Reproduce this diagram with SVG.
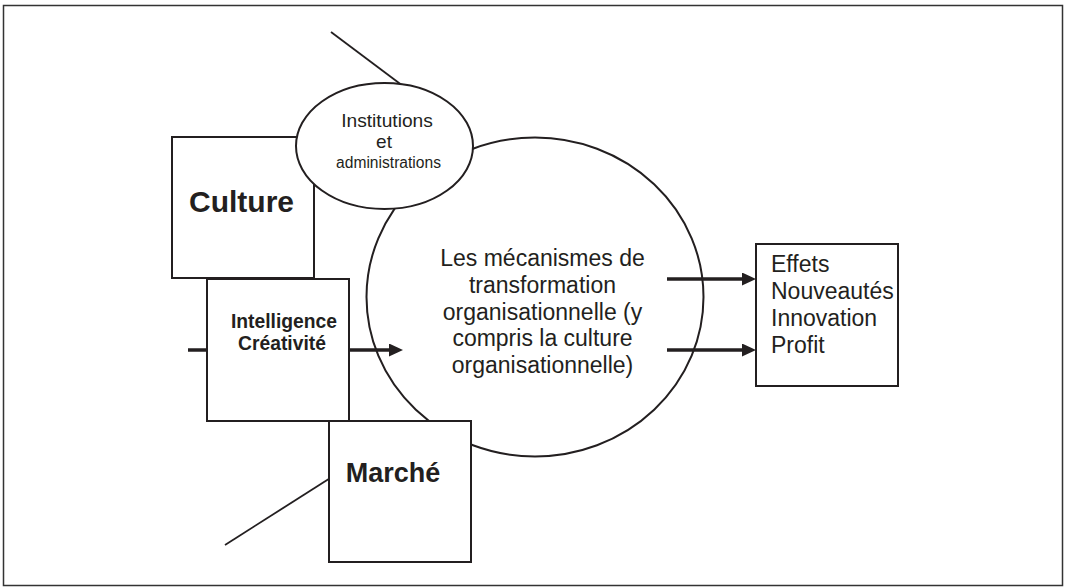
<svg xmlns="http://www.w3.org/2000/svg" width="1065" height="588" viewBox="0 0 1065 588">
<style>
.box{fill:#fff;stroke:#231f20;stroke-width:2}
.ln{fill:none;stroke:#231f20;stroke-width:1.8}
.arr{fill:none;stroke:#231f20;stroke-width:3.5}
text{font-family:"Liberation Sans",Arial,sans-serif;fill:#231f20}
.b{font-weight:bold}
.c{text-anchor:middle}
</style>
<defs>
<marker id="ah" markerUnits="userSpaceOnUse" markerWidth="14" markerHeight="13" viewBox="0 0 14 13" refX="0" refY="6.5" orient="auto">
<path d="M0,0 L14,6.5 L0,13 z" fill="#231f20"/>
</marker>
</defs>
<rect x="3.5" y="5.5" width="1059" height="580" fill="#fff" stroke="#333" stroke-width="1.5"/>
<g id="connectors">
<line class="ln" x1="331" y1="32" x2="410" y2="91.3"/>
<line class="ln" x1="225" y1="545" x2="335" y2="475"/>
<line class="arr" x1="188" y1="350" x2="389" y2="350" marker-end="url(#ah)"/>
<line class="arr" x1="667" y1="279" x2="742" y2="279" marker-end="url(#ah)"/>
<line class="arr" x1="667" y1="350" x2="742" y2="350" marker-end="url(#ah)"/>
</g>
<g id="mecanismes">
<ellipse cx="535" cy="297" rx="168.5" ry="159.5" fill="none" stroke="#231f20" stroke-width="2"/>
<text class="c" x="542.5" font-size="23"><tspan x="542.5" y="266">Les mécanismes de</tspan><tspan x="542.5" y="292.8">transformation</tspan><tspan x="542.5" y="319.6">organisationnelle (y</tspan><tspan x="542.5" y="346.4">compris la culture</tspan><tspan x="542.5" y="373.2">organisationnelle)</tspan></text>
</g>
<g id="culture">
<rect class="box" x="172" y="137" width="142" height="141"/>
<text class="b c" x="241.5" y="212" font-size="30">Culture</text>
</g>
<g id="institutions">
<ellipse class="box" cx="384.5" cy="146" rx="88.5" ry="63"/>
<text class="c" x="387" y="127" font-size="19.2">Institutions</text>
<text class="c" x="384" y="148" font-size="19">et</text>
<text class="c" x="388.5" y="168" font-size="15.6">administrations</text>
</g>
<g id="intelligence">
<rect class="box" x="207" y="279" width="142" height="142"/>
<text class="b c" x="284" y="328" font-size="19.3">Intelligence</text>
<text class="b c" x="282" y="350" font-size="19.3">Créativité</text>
</g>
<g id="marche">
<rect class="box" x="329" y="421" width="142" height="141"/>
<text class="b c" x="393" y="482" font-size="27">Marché</text>
</g>
<g id="effets">
<rect class="box" x="756" y="244" width="142" height="142"/>
<text x="771" font-size="23"><tspan x="771" y="272">Effets</tspan><tspan x="771" y="299">Nouveautés</tspan><tspan x="771" y="326">Innovation</tspan><tspan x="771" y="353">Profit</tspan></text>
</g>
</svg>
